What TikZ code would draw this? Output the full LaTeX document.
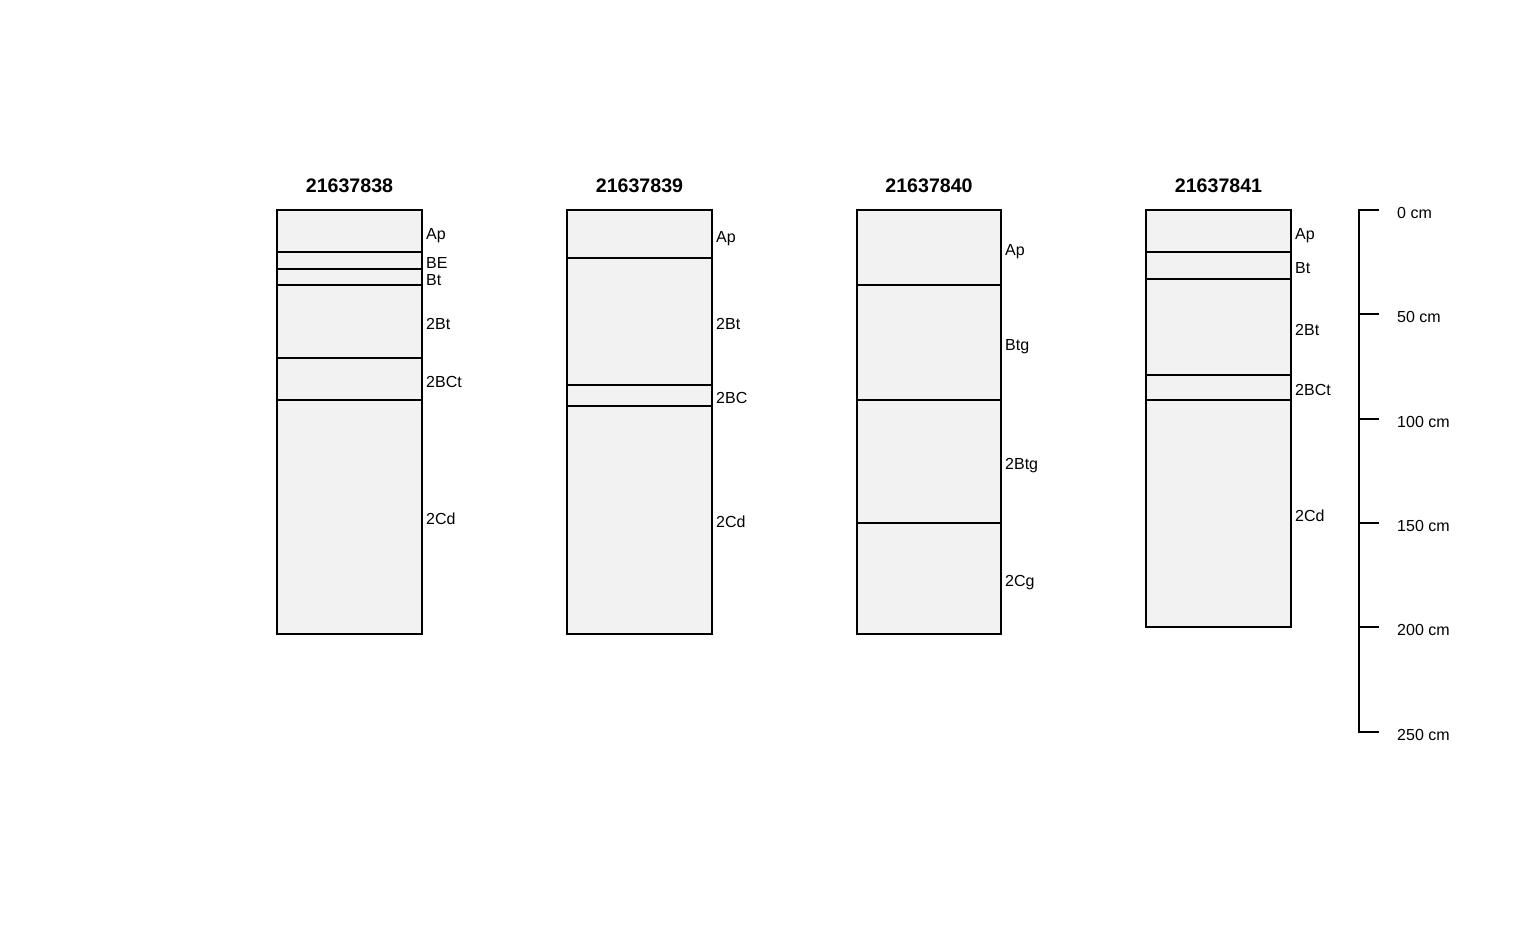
\documentclass[tikz,border=0pt]{standalone}
\usepackage{fontspec}
\setmainfont{Liberation Sans}
\usetikzlibrary{calc}
\begin{document}
\begin{tikzpicture}[x=1pt, y=-1pt]
                \tikzstyle{horizon} = [draw=black, line width=1.5pt, fill={rgb,255:red,242;green,242;blue,242}]
                \tikzstyle{hzline}  = [draw=black, line width=1.5pt]
                \tikzstyle{hzname}  = [anchor=west, inner sep=0pt, yshift=-1pt, font=\fontsize{16}{16}\selectfont, text height=11.5pt, text depth=0pt]
                \tikzstyle{title}   = [inner sep=0pt, font=\fontsize{19.6}{19.6}\selectfont\bfseries, text height=14pt, text depth=0pt]
                \useasboundingbox (0,0) rectangle (1536,950);
                %%Profile 21637838
                \node [title](t1) at (349.5, 185.5) {21637838};
                \draw [horizon] (277, 210) rectangle (422, 634);
                \draw [hzline] (277, 252) -- (422, 252);
                \draw [hzline] (277, 269) -- (422, 269);
                \draw [hzline] (277, 285) -- (422, 285);
                \draw [hzline] (277, 358) -- (422, 358);
                \draw [hzline] (277, 400) -- (422, 400);
                \node [hzname](a1) at (426, 233) {Ap};
                \node [hzname](a2) at (426, 262) {BE};
                \node [hzname](a3) at (426, 279) {Bt};
                \node [hzname](a4) at (426, 323) {2Bt};
                \node [hzname](a5) at (426, 381) {2BCt};
                \node [hzname](a6) at (426, 518) {2Cd};
                %%Profile 21637839
                \node [title](t2) at (639.5, 185.5) {21637839};
                \draw [horizon] (567, 210) rectangle (712, 634);
                \draw [hzline] (567, 258) -- (712, 258);
                \draw [hzline] (567, 385) -- (712, 385);
                \draw [hzline] (567, 406) -- (712, 406);
                \node [hzname](b1) at (716, 236) {Ap};
                \node [hzname](b2) at (716, 323) {2Bt};
                \node [hzname](b3) at (716, 397) {2BC};
                \node [hzname](b4) at (716, 521) {2Cd};
                %%Profile 21637840
                \node [title](t3) at (929, 185.5) {21637840};
                \draw [horizon] (857, 210) rectangle (1001, 634);
                \draw [hzline] (857, 285) -- (1001, 285);
                \draw [hzline] (857, 400) -- (1001, 400);
                \draw [hzline] (857, 523) -- (1001, 523);
                \node [hzname](c1) at (1005, 249) {Ap};
                \node [hzname](c2) at (1005, 344) {Btg};
                \node [hzname](c3) at (1005, 463) {2Btg};
                \node [hzname](c4) at (1005, 580) {2Cg};
                %%Profile 21637841
                \node [title](t4) at (1218.5, 185.5) {21637841};
                \draw [horizon] (1146, 210) rectangle (1291, 627);
                \draw [hzline] (1146, 252) -- (1291, 252);
                \draw [hzline] (1146, 279) -- (1291, 279);
                \draw [hzline] (1146, 375) -- (1291, 375);
                \draw [hzline] (1146, 400) -- (1291, 400);
                \node [hzname](d1) at (1295, 233) {Ap};
                \node [hzname](d2) at (1295, 267) {Bt};
                \node [hzname](d3) at (1295, 329) {2Bt};
                \node [hzname](d4) at (1295, 389) {2BCt};
                \node [hzname](d5) at (1295, 515) {2Cd};
                %%Depth scale
                \draw [hzline] (1379, 210) -- (1359, 210) -- (1359, 732) -- (1379, 732);
                \draw [hzline] (1359, 314) -- (1379, 314);
                \draw [hzline] (1359, 419) -- (1379, 419);
                \draw [hzline] (1359, 523) -- (1379, 523);
                \draw [hzline] (1359, 627) -- (1379, 627);
                \node [hzname](s0) at (1397, 212) {0 cm};
                \node [hzname](s1) at (1397, 316) {50 cm};
                \node [hzname](s2) at (1397, 421) {100 cm};
                \node [hzname](s3) at (1397, 525) {150 cm};
                \node [hzname](s4) at (1397, 629) {200 cm};
                \node [hzname](s5) at (1397, 734) {250 cm};
\end{tikzpicture}
\end{document}
